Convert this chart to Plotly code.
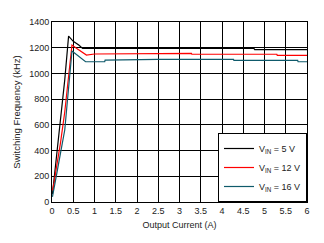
import plotly.graph_objects as go

x5 = [0.01, 0.05, 0.1, 0.2, 0.3, 0.39, 0.5, 0.63, 0.72, 1.0, 2.0, 3.0, 4.0, 4.75, 4.77, 6.0]
y5 = [60, 180, 330, 620, 950, 1290, 1250, 1221, 1195, 1195, 1195, 1195, 1195, 1195, 1185, 1185]

x12 = [0.01, 0.05, 0.1, 0.2, 0.3, 0.47, 0.6, 0.81, 1.0, 1.77, 1.78, 3.28, 3.29, 5.29, 5.3, 6.0]
y12 = [90, 150, 260, 460, 700, 1221, 1190, 1143, 1151, 1151, 1156, 1156, 1149, 1149, 1141, 1141]

x16 = [0.01, 0.05, 0.1, 0.2, 0.3, 0.47, 0.6, 0.79, 1.24, 1.25, 2.5, 4.27, 4.28, 5.78, 5.79, 6.0]
y16 = [40, 120, 200, 380, 560, 1174, 1140, 1091, 1091, 1104, 1110, 1110, 1102, 1102, 1091, 1091]

names = ["V<sub>IN</sub> = 5 V", "V<sub>IN</sub> = 12 V", "V<sub>IN</sub> = 16 V"]
colors = ["#000000", "#ff0000", "#0f5a6b"]

fig = go.Figure()
for xs, ys, n, c in zip([x5, x12, x16], [y5, y12, y16], names, colors):
    fig.add_trace(go.Scatter(x=xs, y=ys, mode="lines", name=n,
                             line=dict(color=c, width=1.2)))

axis_common = dict(showgrid=True, gridcolor="#000000", gridwidth=1,
                   showline=True, linecolor="#000000", linewidth=1, mirror=True,
                   zeroline=False, ticks="", tickfont=dict(size=9, color="#222222"))

fig.update_layout(
    width=324, height=243,
    margin=dict(l=52, r=17, t=22, b=41),
    paper_bgcolor="white", plot_bgcolor="white",
    font=dict(family="Liberation Sans, Arial, sans-serif", size=9, color="#222222"),
    showlegend=True,
    legend=dict(x=1, y=0, xanchor="right", yanchor="bottom",
                bgcolor="white", bordercolor="#000000", borderwidth=1,
                font=dict(size=9), tracegroupgap=0, itemwidth=30),
    xaxis=dict(range=[0, 6], tickvals=[0,0.5,1,1.5,2,2.5,3,3.5,4,4.5,5,5.5,6],
               ticktext=["0","0.5","1","1.5","2","2.5","3","3.5","4","4.5","5","5.5","6"],
               title=dict(text="Output Current (A)", font=dict(size=9), standoff=6),
               **axis_common),
    yaxis=dict(range=[0, 1400], dtick=200,
               title=dict(text="Switching Frequency (kHz)", font=dict(size=9.5), standoff=6),
               **axis_common),
)

fig.write_html("out.html")
